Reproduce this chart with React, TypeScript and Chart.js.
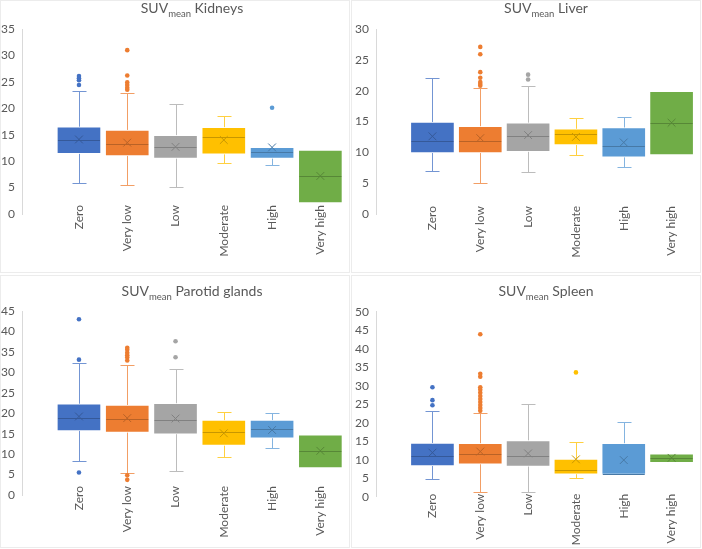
import { useEffect, useRef } from 'react';
import { Chart, registerables } from 'chart.js';

Chart.register(...registerables);

const CATEGORIES = ['Zero', 'Very low', 'Low', 'Moderate', 'High', 'Very high'];
const BOX_COLORS = ['#4472C4', '#ED7D31', '#A5A5A5', '#FFC000', '#5B9BD5', '#70AD47'];

// Kidneys
const kidneysMin = [5.8, 5.4, 5.1, 9.6, 9.3, 2.1];
const kidneysQ1 = [11.4, 11.0, 10.5, 11.3, 10.5, 2.1];
const kidneysMedian = [14.0, 13.2, 12.7, 14.6, 11.8, 7.1];
const kidneysQ3 = [16.5, 15.9, 14.9, 16.4, 12.6, 12.1];
const kidneysMax = [23.3, 22.9, 20.8, 18.5, 12.6, 12.1];
const kidneysMean = [14.1, 13.5, 12.7, 14.0, 12.6, 7.2];
const kidneysOutliers = [[26.1, 25.7, 25.3, 24.4], [31.0, 26.2, 24.9, 24.4, 23.9, 23.5], [], [], [20.1], []];

// Liver
const liverMin = [7.0, 5.0, 6.8, 9.6, 7.7, 9.6];
const liverQ1 = [9.9, 9.9, 10.1, 11.2, 9.2, 9.6];
const liverMedian = [11.9, 11.8, 12.6, 13.0, 11.0, 14.8];
const liverQ3 = [14.9, 14.2, 14.8, 13.8, 14.0, 19.9];
const liverMax = [22.1, 20.4, 20.8, 15.5, 15.7, 19.9];
const liverMean = [12.6, 12.3, 12.8, 12.5, 11.6, 14.8];
const liverOutliers = [[], [27.1, 25.9, 23.0, 22.1, 21.4, 21.1, 20.8], [22.6, 21.8], [], [], []];

// Parotid glands
const parotidMin = [8.4, 5.3, 5.9, 9.2, 11.5, 6.6];
const parotidQ1 = [15.7, 15.3, 14.9, 12.1, 13.9, 6.6];
const parotidMedian = [18.8, 18.6, 18.4, 15.3, 16.2, 10.7];
const parotidQ3 = [22.3, 22.0, 22.4, 18.3, 18.3, 14.7];
const parotidMax = [32.4, 31.9, 30.9, 20.3, 20.1, 14.7];
const parotidMean = [19.2, 18.8, 18.7, 15.1, 15.9, 10.8];
const parotidOutliers = [[43.0, 33.1, 5.5], [36.0, 35.5, 34.8, 34.2, 33.6, 32.9, 4.8, 3.7], [37.6, 33.7], [], [], []];

// Spleen
const spleenMin = [4.7, 1.4, 1.4, 5.1, 6.0, 9.2];
const spleenQ1 = [8.3, 8.8, 8.2, 6.1, 6.0, 9.2];
const spleenMedian = [11.0, 11.5, 10.9, 7.3, 6.1, 10.5];
const spleenQ3 = [14.5, 14.4, 15.2, 10.2, 14.4, 11.6];
const spleenMax = [23.2, 22.7, 25.0, 14.7, 20.1, 11.6];
const spleenMean = [11.9, 12.2, 11.7, 10.1, 9.9, 10.5];
const spleenOutliers = [
  [29.6, 26.1, 24.7],
  [43.9, 33.2, 32.4, 29.6, 28.9, 28.1, 27.2, 26.4, 25.6, 24.8, 24.0, 23.2],
  [],
  [33.6],
  [],
  [],
];

const TEXT_COLOR = '#595959';
const FONT = 'Lato, "Open Sans", sans-serif';

function mix(hex: string, target: number, t: number): string {
  const n = parseInt(hex.slice(1), 16);
  const ch = [(n >> 16) & 255, (n >> 8) & 255, n & 255].map((c) => Math.round(c + (target - c) * t));
  return `rgb(${ch[0]},${ch[1]},${ch[2]})`;
}

const WHISKER_COLORS = BOX_COLORS.map((c) => mix(c, 255, 0.25));
const DARK_COLORS = BOX_COLORS.map((c) => mix(c, 0, 0.22));

type BoxStats = {
  min: number[];
  q1: number[];
  median: number[];
  q3: number[];
  max: number[];
  mean: number[];
  outliers: number[][];
};

type PanelSpec = {
  organ: string;
  stats: BoxStats;
  left: number;
  top: number;
  height: number;
  axisX: number;
  plotTop: number;
  plotBottom: number;
  plotRight: number;
  yMax: number;
  labelPad: number;
  titleX: number;
  titleTop: number;
};

const PANELS: PanelSpec[] = [
  {
    organ: 'Kidneys',
    stats: { min: kidneysMin, q1: kidneysQ1, median: kidneysMedian, q3: kidneysQ3, max: kidneysMax, mean: kidneysMean, outliers: kidneysOutliers },
    left: 0, top: 0, height: 275, axisX: 22, plotTop: 29, plotBottom: 214, plotRight: 344.6, yMax: 35, labelPad: -9,
    titleX: 192, titleTop: 0.5,
  },
  {
    organ: 'Liver',
    stats: { min: liverMin, q1: liverQ1, median: liverMedian, q3: liverQ3, max: liverMax, mean: liverMean, outliers: liverOutliers },
    left: 351, top: 0, height: 275, axisX: 25, plotTop: 29, plotBottom: 214, plotRight: 347.6, yMax: 30, labelPad: -8,
    titleX: 195, titleTop: 0.5,
  },
  {
    organ: 'Parotid glands',
    stats: { min: parotidMin, q1: parotidQ1, median: parotidMedian, q3: parotidQ3, max: parotidMax, mean: parotidMean, outliers: parotidOutliers },
    left: 0, top: 275, height: 274, axisX: 22, plotTop: 36, plotBottom: 220, plotRight: 344.6, yMax: 45, labelPad: -9,
    titleX: 192, titleTop: 8.5,
  },
  {
    organ: 'Spleen',
    stats: { min: spleenMin, q1: spleenQ1, median: spleenMedian, q3: spleenQ3, max: spleenMax, mean: spleenMean, outliers: spleenOutliers },
    left: 351, top: 275, height: 274, axisX: 25, plotTop: 36.7, plotBottom: 221.7, plotRight: 347.6, yMax: 50, labelPad: -3,
    titleX: 195, titleTop: 8.5,
  },
];

// Draws whiskers behind the boxes and median lines on top of them.
function boxPlotPlugin(stats: BoxStats) {
  return {
    id: 'boxWhiskers',
    beforeDatasetsDraw(chart: any) {
      const { ctx } = chart;
      const xs = chart.scales.x;
      const ys = chart.scales.y;
      const cap = 7;
      ctx.save();
      ctx.lineWidth = 1;
      CATEGORIES.forEach((_, i) => {
        const x = Math.round(xs.getPixelForValue(i)) + 0.5;
        ctx.strokeStyle = WHISKER_COLORS[i];
        const segs: [number, number][] = [
          [stats.q3[i], stats.max[i]],
          [stats.q1[i], stats.min[i]],
        ];
        segs.forEach(([from, to]) => {
          if (Math.abs(from - to) < 1e-9) return;
          const y0 = ys.getPixelForValue(from);
          const y1 = Math.round(ys.getPixelForValue(to)) + 0.5;
          ctx.beginPath();
          ctx.moveTo(x, y0);
          ctx.lineTo(x, y1);
          ctx.moveTo(x - cap, y1);
          ctx.lineTo(x + cap, y1);
          ctx.stroke();
        });
      });
      ctx.restore();
    },
    afterDatasetDraw(chart: any, args: any) {
      if (args.index !== 0) return;
      const { ctx } = chart;
      const ys = chart.scales.y;
      const meta = chart.getDatasetMeta(0);
      ctx.save();
      ctx.lineWidth = 1;
      meta.data.forEach((bar: any, i: number) => {
        const y = Math.round(ys.getPixelForValue(stats.median[i])) + 0.5;
        const half = bar.width / 2 - 1;
        ctx.strokeStyle = DARK_COLORS[i];
        ctx.beginPath();
        ctx.moveTo(bar.x - half, y);
        ctx.lineTo(bar.x + half, y);
        ctx.stroke();
      });
      ctx.restore();
    },
  };
}

function BoxPanel({ spec }: { spec: PanelSpec }) {
  const ref = useRef<HTMLCanvasElement>(null);

  useEffect(() => {
    const canvas = ref.current;
    if (!canvas) return;
    const { stats } = spec;
    const outlierPoints: { x: number; y: number }[] = [];
    const outlierColors: string[] = [];
    stats.outliers.forEach((vals, i) => {
      vals.forEach((v) => {
        outlierPoints.push({ x: i, y: v });
        outlierColors.push(BOX_COLORS[i]);
      });
    });

    const chart = new Chart(canvas, {
      type: 'bar',
      data: {
        datasets: [
          {
            type: 'bar',
            label: 'Box',
            data: CATEGORIES.map((_, i) => ({ x: i, y: [stats.q1[i], stats.q3[i]] })) as any,
            backgroundColor: BOX_COLORS,
            borderColor: 'rgba(255,255,255,0.45)',
            borderWidth: 1,
            borderSkipped: false,
            barThickness: 44,
            grouped: false,
            order: 3,
          } as any,
          {
            type: 'scatter',
            label: 'Mean',
            data: CATEGORIES.map((_, i) => ({ x: i, y: stats.mean[i] })),
            pointStyle: 'crossRot',
            pointRadius: 5.5,
            pointBorderWidth: 1,
            pointBorderColor: DARK_COLORS,
            pointBackgroundColor: DARK_COLORS,
            order: 1,
          } as any,
          {
            type: 'scatter',
            label: 'Outliers',
            data: outlierPoints,
            pointStyle: 'circle',
            pointRadius: 2.3,
            pointBorderWidth: 0,
            pointBackgroundColor: outlierColors,
            pointBorderColor: outlierColors,
            order: 2,
          } as any,
        ],
      },
      options: {
        responsive: false,
        animation: false,
        devicePixelRatio: 1,
        events: [],
        layout: {
          padding: {
            top: spec.plotTop,
            left: 0,
            right: 351 - spec.plotRight,
            bottom: spec.height - spec.plotBottom,
          },
        },
        plugins: {
          legend: { display: false },
          tooltip: { enabled: false },
          title: { display: false },
        },
        scales: {
          x: {
            type: 'linear',
            position: { y: 0 },
            min: -1.18,
            max: 5.5,
            offset: false,
            grid: { display: false, drawTicks: false },
            border: { display: false },
            afterBuildTicks: (axis: any) => {
              axis.ticks = CATEGORIES.map((_, i) => ({ value: i }));
            },
            ticks: {
              autoSkip: false,
              maxRotation: 90,
              minRotation: 90,
              padding: spec.labelPad,
              color: TEXT_COLOR,
              font: { family: FONT, size: 12 },
              callback: (v: any) => CATEGORIES[Number(v)] ?? '',
            },
          },
          y: {
            type: 'linear',
            min: 0,
            max: spec.yMax,
            grid: { display: false, drawTicks: false },
            border: { display: true, color: '#D9D9D9', width: 1 },
            afterFit: (axis: any) => {
              axis.width = spec.axisX;
              axis.paddingTop = 0;
              axis.paddingBottom = 0;
            },
            ticks: {
              stepSize: 5,
              padding: 7,
              color: TEXT_COLOR,
              font: { family: FONT, size: 12 },
            },
          },
        },
      } as any,
      plugins: [boxPlotPlugin(stats)],
    });
    return () => chart.destroy();
  }, [spec]);

  return (
    <div style={{ position: 'absolute', left: spec.left, top: spec.top, width: 351, height: spec.height }}>
      <div
        style={{
          position: 'absolute',
          left: 0,
          top: 0,
          width: 350,
          height: 273,
          boxSizing: 'border-box',
          border: '1px solid #ECECEC',
        }}
      />
      <canvas ref={ref} width={351} height={spec.height} style={{ position: 'absolute', left: 0, top: 0, width: 351, height: spec.height }} />
      <div
        style={{
          position: 'absolute',
          left: spec.titleX - 150,
          top: spec.titleTop,
          width: 300,
          textAlign: 'center',
          fontFamily: FONT,
          fontSize: 14,
          lineHeight: '14px',
          color: TEXT_COLOR,
          whiteSpace: 'nowrap',
        }}
      >
        SUV<span style={{ fontSize: 9.5, verticalAlign: '-4px', lineHeight: 0 }}>mean</span> {spec.organ}
      </div>
    </div>
  );
}

export default function App() {
  return (
    <div style={{ position: 'absolute', left: 0, top: 0, width: 702, height: 549, background: '#ffffff', overflow: 'hidden' }}>
      {PANELS.map((p) => (
        <BoxPanel key={p.organ} spec={p} />
      ))}
    </div>
  );
}
